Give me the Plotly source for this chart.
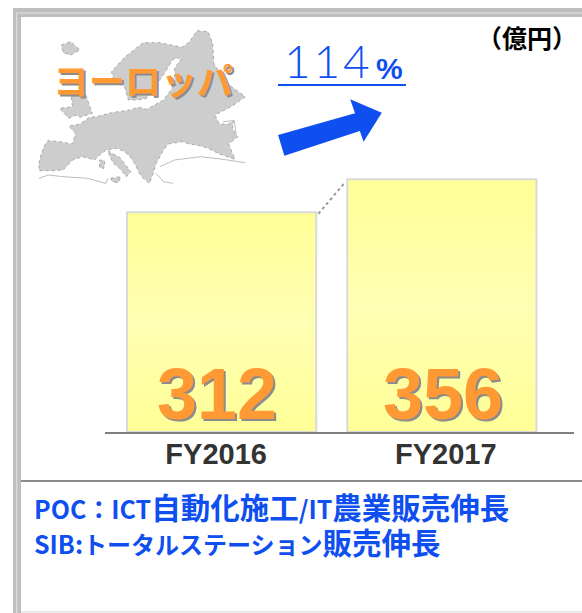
import plotly.graph_objects as go

W, H = 582, 613
categories = ["FY2016", "FY2017"]
values = [312, 356]
tick_offsets = [-0.025, 0.018]
value_offsets = [-0.022, 0.005]
growth_label = "1\u200a1\u200a4"
region_label = "ヨーロッパ"
unit_label = "（億円）"

Y_FLOOR = 19
Y_TOP = 381.7
BAR_W = 0.859
BLUE = "#0F4FF0"
ORANGE = "#FF9933"
CJK = "Noto Sans CJK JP"

def px(x): return x / W
def py(y): return 1 - y / H
ZX, ZY = 2.69, 3.0
def poly(points, close=True):
    return "M" + " L".join(f"{px(a/ZX):.4f},{py(b/ZY):.4f}" for a, b in points) + (" Z" if close else "")

positions = list(range(len(categories)))
tick_positions = [p + o for p, o in zip(positions, tick_offsets)]
value_positions = [p + o for p, o in zip(positions, value_offsets)]

fig = go.Figure()

# solid underlay, then a vertical gradient built out of stacked slices of each bar
fig.add_bar(x=positions, y=[v - Y_FLOOR for v in values], base=[Y_FLOOR] * 2, width=BAR_W,
            marker=dict(color="#FFFFA6", line=dict(width=0)), hoverinfo="skip", showlegend=False)
N = 40
for i in range(N):
    t = i / (N - 1)
    g = 1 - abs(2 * t - 1)
    blue = int(0x98 + (0xB4 - 0x98) * g)
    fig.add_bar(x=positions,
                y=[(v - Y_FLOOR) / N for v in values],
                base=[Y_FLOOR + (v - Y_FLOOR) * i / N for v in values],
                width=BAR_W, marker=dict(color=f"#FFFF{blue:02X}", line=dict(width=0)),
                hoverinfo="skip", showlegend=False)
fig.add_bar(x=positions, y=[v - Y_FLOOR for v in values], base=[Y_FLOOR] * 2,
            width=BAR_W, marker=dict(color="rgba(0,0,0,0)", line=dict(color="#D9D9D9", width=2)),
            showlegend=False)

shapes = []
def rect(x0, y0, x1, y1, color):
    shapes.append(dict(type="rect", xref="paper", yref="paper", x0=px(x0), x1=px(x1),
                       y0=py(y0), y1=py(y1), fillcolor=color, line=dict(width=0), layer="below"))

# double frame
rect(13, 8, W + 2, 17, "#E6E6E6")
rect(13, 8, 21, H + 2, "#E6E6E6")
rect(13, 8, W + 2, 12.5, "#BEBEBE")
rect(13, 8, 16.3, H + 2, "#BEBEBE")
rect(17.3, 13.5, W + 2, 17, "#BEBEBE")
rect(17.3, 13.5, 21, H + 2, "#BEBEBE")
rect(21, 17, W + 2, H + 2, "#FFFFFF")
rect(21, 611, W + 2, 612.5, "#E2E2E2")
rect(21, 480, W + 2, 482, "#8C8C8C")

# Europe silhouette (traced on a crop)
mainland = [(105,490),(110,465),(118,440),(128,422),(160,425),(195,432),(203,400),(185,378),(215,372),(240,352),(260,350),
            (300,338),(350,330),(372,322),(395,328),(440,300),(470,255),(470,205),(490,172),(465,178),(445,215),(420,255),
            (395,295),(370,300),(345,300),(330,240),(305,235),(300,215),(335,172),(385,128),(430,128),(490,142),
            (510,125),(530,92),(560,95),(572,130),(575,190),(600,235),(625,262),(660,290),(625,318),(578,345),(590,372),
            (615,372),(628,362),(625,385),(640,410),(615,432),(632,478),(590,462),(560,445),(540,438),(510,432),(490,425),
            (452,432),(440,450),(430,470),(420,490),(412,520),(402,550),(385,535),(375,520),(362,490),(350,470),(335,455),
            (315,445),(285,450),(268,465),(255,480),(222,470),(195,480),(180,498),(170,510),(135,512),(105,512)]
italy = [(290,452),(305,462),(322,472),(352,515),(340,530),(322,505),(305,490),(296,470)]
uk = [(192,290),(228,275),(248,340),(215,352),(205,345),(185,355),(160,325),(195,320)]
iceland = [(165,135),(190,125),(215,150),(190,165),(170,158)]
sardinia = [(268,480),(282,482),(280,505),(268,503)]
sicily = [(298,535),(325,530),(318,548),(302,545)]
for pts in (mainland, italy, uk, iceland, sardinia, sicily):
    shapes.append(dict(type="path", xref="paper", yref="paper", path=poly(pts),
                       fillcolor="#CDCDCD", line=dict(color="#A8A8A8", width=1, dash="dot"), layer="below"))
coast_lines = [
    [(105,535),(130,525),(170,530),(235,535),(285,550),(290,535)],
    [(430,500),(470,480),(540,470),(600,478),(660,488)],
    [(420,520),(440,545),(465,550)],
    [(600,365),(630,362),(635,400),(622,412)],
]
for pts in coast_lines:
    shapes.append(dict(type="path", xref="paper", yref="paper", path=poly(pts, close=False),
                       fillcolor="rgba(0,0,0,0)", line=dict(color="#BDBDBD", width=1), layer="below"))

# blue arrow and underline
arrow = [(748,405),(955,340),(942,298),(1027,338),(978,425),(968,393),(765,467)]
shapes.append(dict(type="path", xref="paper", yref="paper", path=poly(arrow),
                   fillcolor=BLUE, line=dict(width=0)))
shapes.append(dict(type="line", xref="paper", yref="paper", x0=px(278), x1=px(406),
                   y0=py(85), y1=py(85), line=dict(color=BLUE, width=2)))

# dotted connector between the bar tops
half = BAR_W / 2
shapes.append(dict(type="line", xref="x", yref="y", x0=positions[0] + half + 0.01, x1=positions[1] - half - 0.01,
                   y0=values[0] - 2, y1=values[1] - 4, line=dict(color="#999999", width=2, dash="dot")))

ann = []
def label(text, x, y, size, color, anchor="left", weight="bold", family=CJK, shadow=None):
    base = dict(text=text, xref="paper", yref="paper", x=px(x), y=py(y), xanchor=anchor, yanchor="middle",
                showarrow=False)
    if shadow:
        ann.append(dict(base, xshift=2, yshift=-2,
                        font=dict(family=family, size=size, color=shadow, weight=weight)))
    ann.append(dict(base, font=dict(family=family, size=size, color=color, weight=weight)))

small = '<span style="font-size:25px">%s</span>'
kata = '<span style="font-size:24px">%s</span>'
note_1 = small % "POC：ICT" + "自動化施工" + small % "/IT" + "農業販売伸長"
note_2 = small % "SIB:" + kata % "トータルステーション" + "販売伸長"

label(region_label, 143, 79, 36, ORANGE, "center", shadow="#8C8C8C")
label(unit_label, 527, 37, 25, "#000000", "center")
label(growth_label, 327, 60, 46, BLUE, "center", weight=300, family="Lato")
label("%", 390, 69, 30, BLUE, "center", family="Liberation Sans")
label(note_1, 31.5, 506, 29.5, BLUE, "left")
label(note_2, 31.5, 541, 29.5, BLUE, "left")

for p, v in zip(value_positions, values):
    for shift, col in (((2, -2), "#8C8C8C"), ((0, 0), ORANGE)):
        ann.append(dict(text=str(v), x=p, y=Y_FLOOR, xref="x", yref="y", xanchor="center", yanchor="bottom",
                        xshift=shift[0], yshift=shift[1] - 4, showarrow=False,
                        font=dict(family="Liberation Sans", size=72, color=col, weight="bold")))

fig.update_layout(
    width=W, height=H, autosize=False, margin=dict(l=0, r=0, t=0, b=0),
    paper_bgcolor="white", plot_bgcolor="rgba(0,0,0,0)", barmode="overlay",
    showlegend=False, shapes=shapes, annotations=ann,
    xaxis=dict(domain=[px(105), px(574)], range=[-0.5295, 1.6],
               tickmode="array", tickvals=tick_positions, ticktext=categories,
               showline=True, linecolor="#808080", linewidth=2, showgrid=False, zeroline=False,
               ticks="", ticklabelstandoff=-5,
               tickfont=dict(family="Liberation Sans", size=29, color="#333333", weight="bold")),
    yaxis=dict(domain=[py(432), py(160)], range=[Y_FLOOR, Y_TOP], visible=False),
)
fig.write_html("out.html", config={"displayModeBar": False}, post_script="document.body.style.margin='0';")
